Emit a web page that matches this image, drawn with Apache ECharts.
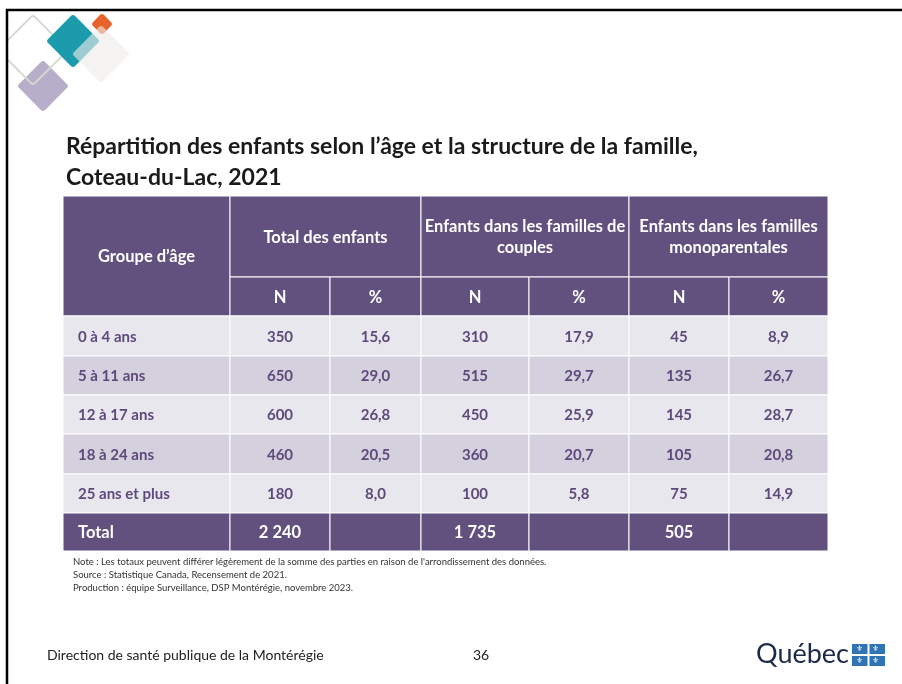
<!DOCTYPE html>
<html>
<head>
<meta charset="utf-8">
<script src="https://cdn.jsdelivr.net/npm/echarts@6/dist/echarts.min.js"></script>
<style>
  html, body { margin: 0; padding: 0; background: #fff; }
  #chart { width: 902px; height: 684px; }
</style>
</head>
<body>
<div id="chart"></div>
<script>
/* ── Data ── */
const ageGroups = ['0 à 4 ans', '5 à 11 ans', '12 à 17 ans', '18 à 24 ans', '25 ans et plus'];
const totalN = [350, 650, 600, 460, 180];
const totalPct = [15.6, 29.0, 26.8, 20.5, 8.0];
const coupleN = [310, 515, 450, 360, 100];
const couplePct = [17.9, 29.7, 25.9, 20.7, 5.8];
const monoN = [45, 135, 145, 105, 75];
const monoPct = [8.9, 26.7, 28.7, 20.8, 14.9];
const totalsN = [2240, 1735, 505];
const groupHeaders = ['Total des enfants', 'Enfants dans les familles de\ncouples', 'Enfants dans les familles\nmonoparentales'];
const subHeaders = ['N', '%'];
const firstHeader = 'Groupe d’âge';
const totalLabel = 'Total';

/* ── Layout (table grid, px) ── */
const colW = [167, 100, 91, 108, 100, 100, 99];
const rowH = [81, 39, 40, 39, 39, 40, 39, 38];
const xEdge = [0];
colW.forEach((w) => xEdge.push(xEdge[xEdge.length - 1] + w));
const yEdge = [0];
rowH.forEach((h) => yEdge.push(yEdge[yEdge.length - 1] + h));

const PURPLE = '#62507e';
const TEXT_PURPLE = '#5d4a7b';
const ROW_LIGHT = '#e9e7ee';
const ROW_DARK = '#d5d0dd';
const FONT = 'Lato, "Open Sans", sans-serif';

const fmtN = (v) => String(v).replace(/\B(?=(\d{3})+(?!\d))/g, ' ');
const fmtPct = (v) => v.toFixed(1).replace('.', ',');

// cells: [c0, c1, r0, r1, text, kind, align]
const cells = [];
cells.push([0, 1, 0, 2, firstHeader, 'head', 'center']);
groupHeaders.forEach((g, i) => cells.push([1 + 2 * i, 3 + 2 * i, 0, 1, g, 'head', 'center']));
for (let i = 0; i < 6; i++) cells.push([1 + i, 2 + i, 1, 2, subHeaders[i % 2], 'head', 'center']);
ageGroups.forEach((g, r) => {
  const kind = r % 2 === 0 ? 'light' : 'dark';
  const vals = [fmtN(totalN[r]), fmtPct(totalPct[r]), fmtN(coupleN[r]), fmtPct(couplePct[r]), fmtN(monoN[r]), fmtPct(monoPct[r])];
  cells.push([0, 1, 2 + r, 3 + r, g, kind, 'left']);
  vals.forEach((v, c) => cells.push([1 + c, 2 + c, 2 + r, 3 + r, v, kind, 'center']));
});
cells.push([0, 1, 7, 8, totalLabel, 'head', 'left']);
for (let c = 0; c < 6; c++) {
  cells.push([1 + c, 2 + c, 7, 8, c % 2 === 0 ? fmtN(totalsN[c / 2]) : '', 'head', 'center']);
}

const cellData = cells.map((c) => [xEdge[c[0]], yEdge[c[2]], xEdge[c[1]], yEdge[c[3]]]);

function renderCell(params, api) {
  const cell = cells[params.dataIndex];
  const p0 = api.coord([api.value(0), api.value(1)]);
  const p1 = api.coord([api.value(2), api.value(3)]);
  const x = Math.min(p0[0], p1[0]);
  const y = Math.min(p0[1], p1[1]);
  const w = Math.abs(p1[0] - p0[0]);
  const h = Math.abs(p1[1] - p0[1]);
  const kind = cell[5];
  const fill = kind === 'head' ? PURPLE : kind === 'light' ? ROW_LIGHT : ROW_DARK;
  const color = kind === 'head' ? '#ffffff' : TEXT_PURPLE;
  const left = cell[6] === 'left';
  return {
    type: 'group',
    children: [
      {
        type: 'rect',
        shape: { x: x, y: y, width: w, height: h },
        style: { fill: fill, stroke: '#ffffff', lineWidth: 1 }
      },
      {
        type: 'text',
        style: {
          text: cell[4],
          x: left ? x + 15 : x + w / 2,
          y: y + h / 2 + 1,
          align: left ? 'left' : 'center',
          verticalAlign: 'middle',
          fill: color,
          fontFamily: FONT,
          fontWeight: 'bold',
          fontSize: kind === 'head' ? 16.5 : 15,
          lineHeight: 21
        }
      }
    ]
  };
}

function diamond(cx, cy, d, style) {
  const s = d * Math.SQRT2;
  return {
    type: 'rect',
    x: cx, y: cy, rotation: Math.PI / 4,
    shape: { x: -s / 2, y: -s / 2, width: s, height: s, r: 3 },
    style: style,
    silent: true
  };
}

const chart = echarts.init(document.getElementById('chart'));
chart.setOption({
  backgroundColor: '#ffffff',
  animation: false,
  title: {
    text: 'Répartition des enfants selon l’âge et la structure de la famille,\nCoteau-du-Lac, 2021',
    left: 61,
    top: 126,
    textStyle: { fontFamily: FONT, fontSize: 23, fontWeight: 'bold', color: '#1a1a1a', lineHeight: 31 }
  },
  grid: { left: 63, top: 196, width: xEdge[xEdge.length - 1], height: yEdge[yEdge.length - 1] },
  xAxis: { type: 'value', min: 0, max: xEdge[xEdge.length - 1], show: false },
  yAxis: { type: 'value', min: 0, max: yEdge[yEdge.length - 1], inverse: true, show: false },
  series: [{
    type: 'custom',
    renderItem: renderCell,
    encode: { x: [0, 2], y: [1, 3] },
    data: cellData,
    silent: true
  }],
  graphic: [
    // logo diamonds
    diamond(43, 86, 26, { fill: '#b7afc9' }),
    diamond(33, 50, 35, { fill: null, stroke: '#d4dad0', lineWidth: 2 }),
    diamond(73, 41, 27, { fill: '#1b9bac' }),
    diamond(102, 24, 11, { fill: '#e8632b' }),
    diamond(101, 54, 29, { fill: 'rgba(238,235,232,0.62)' }),
    { type: 'rect', shape: { x: 0, y: 0, width: 7, height: 684 }, style: { fill: '#fff' }, silent: true },
    // slide frame
    { type: 'polyline', shape: { points: [[7, 684], [7, 10], [902, 10]] }, style: { stroke: '#000', lineWidth: 2.5, fill: null }, silent: true },
    // notes
    { type: 'text', left: 73, top: 557, style: { text: 'Note : Les totaux peuvent différer légèrement de la somme des parties en raison de l\'arrondissement des données.', fontFamily: FONT, fontSize: 9.5, fill: '#333' }, silent: true },
    { type: 'text', left: 73, top: 570, style: { text: 'Source : Statistique Canada, Recensement de 2021.', fontFamily: FONT, fontSize: 9.5, fill: '#333' }, silent: true },
    { type: 'text', left: 73, top: 583, style: { text: 'Production : équipe Surveillance, DSP Montérégie, novembre 2023.', fontFamily: FONT, fontSize: 9.5, fill: '#333' }, silent: true },
    // footer
    { type: 'text', left: 47, top: 648, style: { text: 'Direction de santé publique de la Montérégie', fontFamily: FONT, fontSize: 14, fill: '#222' }, silent: true },
    { type: 'text', left: 473, top: 648, style: { text: '36', fontFamily: FONT, fontSize: 14, fill: '#222' }, silent: true },
    { type: 'text', left: 756, top: 641, style: { text: 'Québec', fontFamily: FONT, fontSize: 27, fill: '#1c2a48' }, silent: true },
    { type: 'rect', shape: { x: 852, y: 644, width: 33, height: 22 }, style: { fill: '#2f74b5' }, silent: true },
    { type: 'rect', shape: { x: 867.5, y: 644, width: 2, height: 22 }, style: { fill: '#fff' }, silent: true },
    { type: 'rect', shape: { x: 852, y: 654, width: 33, height: 2 }, style: { fill: '#fff' }, silent: true },
    { type: 'text', left: 856, top: 645, style: { text: '⚜', fontFamily: 'DejaVu Sans', fontSize: 8, fill: '#fff' }, silent: true },
    { type: 'text', left: 872, top: 645, style: { text: '⚜', fontFamily: 'DejaVu Sans', fontSize: 8, fill: '#fff' }, silent: true },
    { type: 'text', left: 856, top: 657, style: { text: '⚜', fontFamily: 'DejaVu Sans', fontSize: 8, fill: '#fff' }, silent: true },
    { type: 'text', left: 872, top: 657, style: { text: '⚜', fontFamily: 'DejaVu Sans', fontSize: 8, fill: '#fff' }, silent: true }
  ]
});
</script>
</body>
</html>
